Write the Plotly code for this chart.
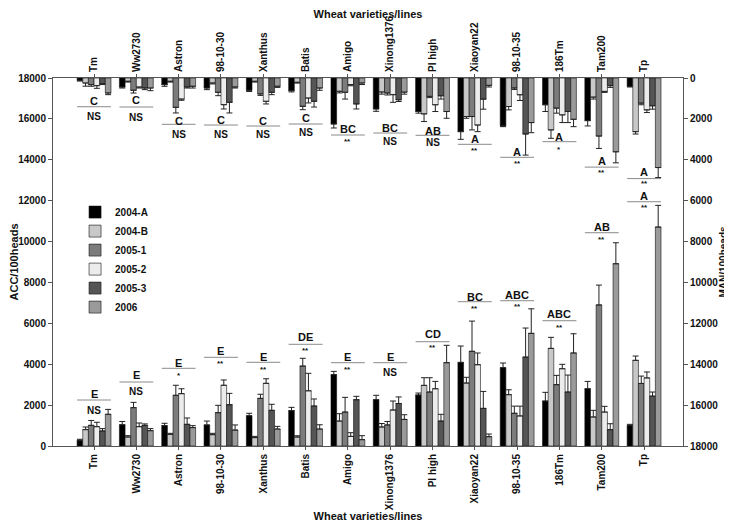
import plotly.graph_objects as go

varieties = ["Tm", "Ww2730", "Astron", "98-10-30", "Xanthus", "Batis", "Amigo",
             "Xinong1376", "PI high", "Xiaoyan22", "98-10-35", "186Tm", "Tam200", "Tp"]
series = ["2004-A", "2004-B", "2005-1", "2005-2", "2005-3", "2006"]
colors = ["#000000", "#c8c8c8", "#7c7c7c", "#ececec", "#555555", "#9a9a9a"]

# ACC/100heads (bottom, left axis): mean values and upper error limits
acc_2004A = [280, 1040, 995, 1030, 1480, 1730, 3490, 2265, 2495, 4090, 3830, 2200, 2800, 1010]
acc_2004B = [800, 440, 570, 555, 410, 440, 1220, 930, 2965, 3080, 2510, 4775, 1420, 4190]
acc_2005_1 = [1010, 1875, 2480, 1630, 2330, 3910, 1660, 1030, 2640, 4630, 1600, 3000, 6900, 3060]
acc_2005_2 = [945, 945, 2560, 2970, 3065, 2700, 470, 1760, 2800, 3975, 1470, 3780, 1660, 3330]
acc_2005_3 = [735, 1010, 1060, 2020, 1745, 1955, 2265, 2080, 1220, 1840, 4350, 2640, 800, 2440]
acc_2006 = [1550, 750, 900, 780, 830, 830, 310, 1300, 4075, 455, 5510, 4550, 8915, 10710]

acc_err_2004A = [330, 1200, 1110, 1220, 1600, 1890, 3650, 2480, 2590, 4890, 4060, 2625, 3160, 1060]
acc_err_2004B = [930, 505, 620, 620, 470, 500, 1580, 1100, 3340, 3360, 2750, 5315, 1745, 4400]
acc_err_2005_1 = [1250, 2135, 2970, 1990, 2530, 4290, 2380, 1200, 3340, 6110, 1950, 3455, 7870, 3420]
acc_err_2005_2 = [1160, 1125, 2800, 3230, 3290, 3555, 650, 2200, 3160, 4550, 1950, 3995, 1940, 3620]
acc_err_2005_3 = [850, 1080, 1370, 2575, 2040, 2300, 2430, 2400, 1550, 2670, 5770, 3470, 1090, 2640]
acc_err_2006 = [1790, 850, 995, 1030, 960, 1040, 505, 1530, 4925, 585, 6710, 5490, 9940, 11770]

# MAN/100heads (top, right reversed axis): mean values and error limits
man_2004A = [115, 440, 325, 490, 600, 620, 2250, 1515, 1640, 2625, 2345, 1310, 2085, 410]
man_2004B = [245, 160, 160, 245, 160, 210, 650, 685, 1755, 1885, 1395, 2540, 935, 2625]
man_2005_1 = [325, 600, 1435, 700, 780, 1385, 700, 735, 900, 1885, 490, 1475, 2840, 1230]
man_2005_2 = [375, 440, 1030, 1305, 1140, 980, 325, 815, 1310, 2300, 820, 1805, 655, 1560]
man_2005_3 = [280, 490, 440, 1190, 700, 1140, 1270, 1065, 870, 1035, 2740, 1640, 375, 1360]
man_2006 = [735, 490, 405, 440, 405, 490, 245, 690, 1640, 360, 2180, 2020, 3610, 4380]

man_err_2004A = [150, 490, 405, 570, 660, 680, 2445, 1630, 1720, 3000, 2380, 1640, 2345, 440]
man_err_2004B = [400, 200, 200, 290, 200, 250, 730, 790, 2130, 1970, 1560, 2950, 1030, 2740]
man_err_2005_1 = [405, 735, 1710, 865, 850, 1550, 1030, 830, 960, 2540, 560, 1720, 3445, 1310]
man_err_2005_2 = [505, 490, 1090, 1515, 1270, 1220, 380, 1190, 1640, 2625, 1100, 2180, 705, 1690]
man_err_2005_3 = [320, 570, 490, 1710, 815, 1420, 1515, 1150, 1030, 1525, 3770, 2180, 460, 1525]
man_err_2006 = [815, 620, 490, 490, 460, 600, 320, 790, 1970, 440, 2675, 2380, 4150, 4870]

# significance letters / marks (ACC-axis units for placement)
top_letters = ["C", "C", "C", "C", "C", "C", "BC", "BC", "AB", "A", "A", "A", "A", "A"]
top_sig = ["NS", "NS", "NS", "NS", "NS", "NS", "**", "NS", "NS", "**", "**", "*", "**", "**"]
top_letter_y = [16888, 16924, 15911, 15945, 15896, 16043, 15505, 15569, 15422, 15031, 14395, 15129, 13935, 13380]
top_line_y = [16595, 16581, 15735, 15700, 15651, 15749, 15212, 15310, 15197, 14757, 14121, 14884, 13641, 13080]
top_sig_y = [16140, 16092, 15260, 15260, 15260, 15358, 14918, 14918, 14855, 14478, 13828, 14512, 13397, 12830]

bot_letters = ["E", "E", "E", "E", "E", "DE", "E", "E", "CD", "BC", "ABC", "ABC", "AB", "A"]
bot_sig = ["NS", "NS", "*", "**", "**", "**", "**", "NS", "**", "**", "**", "**", "**", "**"]
bot_letter_y = [2543, 3458, 4060, 4647, 4368, 5316, 4368, 4368, 5478, 7302, 7385, 6456, 10726, 12250]
bot_line_y = [2250, 3130, 3800, 4338, 4094, 4974, 4074, 4074, 5101, 7058, 7106, 6128, 10432, 11948]
bot_sig_y = [1761, 2690, 3473, 4045, 3766, 4695, 3766, 3605, 4842, 6735, 6813, 5806, 10109, 11674]

acc_vals = [acc_2004A, acc_2004B, acc_2005_1, acc_2005_2, acc_2005_3, acc_2006]
acc_errs = [acc_err_2004A, acc_err_2004B, acc_err_2005_1, acc_err_2005_2, acc_err_2005_3, acc_err_2006]
man_vals = [man_2004A, man_2004B, man_2005_1, man_2005_2, man_2005_3, man_2006]
man_errs = [man_err_2004A, man_err_2004B, man_err_2005_1, man_err_2005_2, man_err_2005_3, man_err_2006]

FONT = "Liberation Sans"
fig = go.Figure()

for i, s in enumerate(series):
    plus = [e - v for v, e in zip(acc_vals[i], acc_errs[i])]
    fig.add_trace(go.Bar(
        x=varieties, y=acc_vals[i], name=s, marker_color=colors[i],
        marker_line=dict(color="#111111", width=0.6), offsetgroup=str(i),
        error_y=dict(type="data", symmetric=False, array=plus,
                     arrayminus=[0] * len(plus), color="#222222", thickness=1, width=3),
        xaxis="x", yaxis="y", legendgroup=s, showlegend=True))

for i, s in enumerate(series):
    plus = [e - v for v, e in zip(man_vals[i], man_errs[i])]
    fig.add_trace(go.Bar(
        x=varieties, y=man_vals[i], name=s, marker_color=colors[i],
        marker_line=dict(color="#111111", width=0.6), offsetgroup=str(i),
        error_y=dict(type="data", symmetric=False, array=plus,
                     arrayminus=[0] * len(plus), color="#222222", thickness=1, width=3),
        xaxis="x2", yaxis="y2", legendgroup=s, showlegend=False))

ann = []
shapes = []
afont = dict(family=FONT, size=11, color="#111111", weight="bold")
sfont = dict(family=FONT, size=10, color="#111111", weight="bold")
stfont = dict(family=FONT, size=8, color="#111111", weight="bold")
for idx in range(len(varieties)):
    for lt, sg, ly, lny, sy in [
        (top_letters[idx], top_sig[idx], top_letter_y[idx], top_line_y[idx], top_sig_y[idx]),
        (bot_letters[idx], bot_sig[idx], bot_letter_y[idx], bot_line_y[idx], bot_sig_y[idx]),
    ]:
        ann.append(dict(x=idx, y=ly, xref="x", yref="y", text=lt, showarrow=False,
                        font=afont, yanchor="middle"))
        ann.append(dict(x=idx, y=sy, xref="x", yref="y", text=sg, showarrow=False,
                        font=sfont if sg == "NS" else stfont, yanchor="middle"))
        shapes.append(dict(type="line", xref="x", yref="y", x0=idx - 0.4, x1=idx + 0.4,
                           y0=lny, y1=lny, line=dict(color="#8a8a8a", width=1)))

xtickf = dict(family=FONT, size=10, color="#111111", weight="bold")
tickf = dict(family=FONT, size=10, color="#111111", weight="bold")
titlef = dict(family=FONT, size=11, color="#111111", weight="bold")

common_x = dict(type="category", range=[-0.97, 13.92], tickangle=-90, tickfont=xtickf,
                showline=True, linecolor="#555555", linewidth=1, ticks="outside",
                ticklen=3, tickcolor="#555555", showgrid=False, automargin=False)
common_y = dict(range=[0, 18000], dtick=2000, tickformat="d", tickfont=tickf,
                showgrid=False, zeroline=False, showline=True, linecolor="#555555",
                linewidth=1, ticks="outside", ticklen=4, tickcolor="#555555",
                automargin=False)

# page body adds an 8px offset, so the figure is sized to fill the rest of the window
fig.update_layout(
    width=724, height=516,
    margin=dict(l=45, r=49, t=70, b=78),
    paper_bgcolor="white", plot_bgcolor="white",
    barmode="group", bargap=0.2, bargroupgap=0,
    showlegend=True,
    legend=dict(x=0.035, y=0.675, xanchor="left", yanchor="top",
                font=dict(family=FONT, size=10, color="#111111", weight="bold"),
                bgcolor="rgba(0,0,0,0)", tracegroupgap=0, itemwidth=30),
    xaxis=dict(**common_x,
               title=dict(text="Wheat varieties/lines", font=titlef, standoff=2)),
    xaxis2=dict(**common_x, overlaying="x", side="top", matches="x",
                title=dict(text="Wheat varieties/lines", font=titlef, standoff=2)),
    yaxis=dict(**common_y,
               title=dict(text="ACC/100heads", font=titlef, standoff=4)),
    yaxis2=dict(**{**common_y, "range": [18000, 0]}, overlaying="y", side="right",
                title=dict(text="MAN/100heads", font=dict(family=FONT, size=10, color="#111111", weight="bold"), standoff=0)),
    annotations=ann, shapes=shapes,
)

fig.write_html("out.html")
